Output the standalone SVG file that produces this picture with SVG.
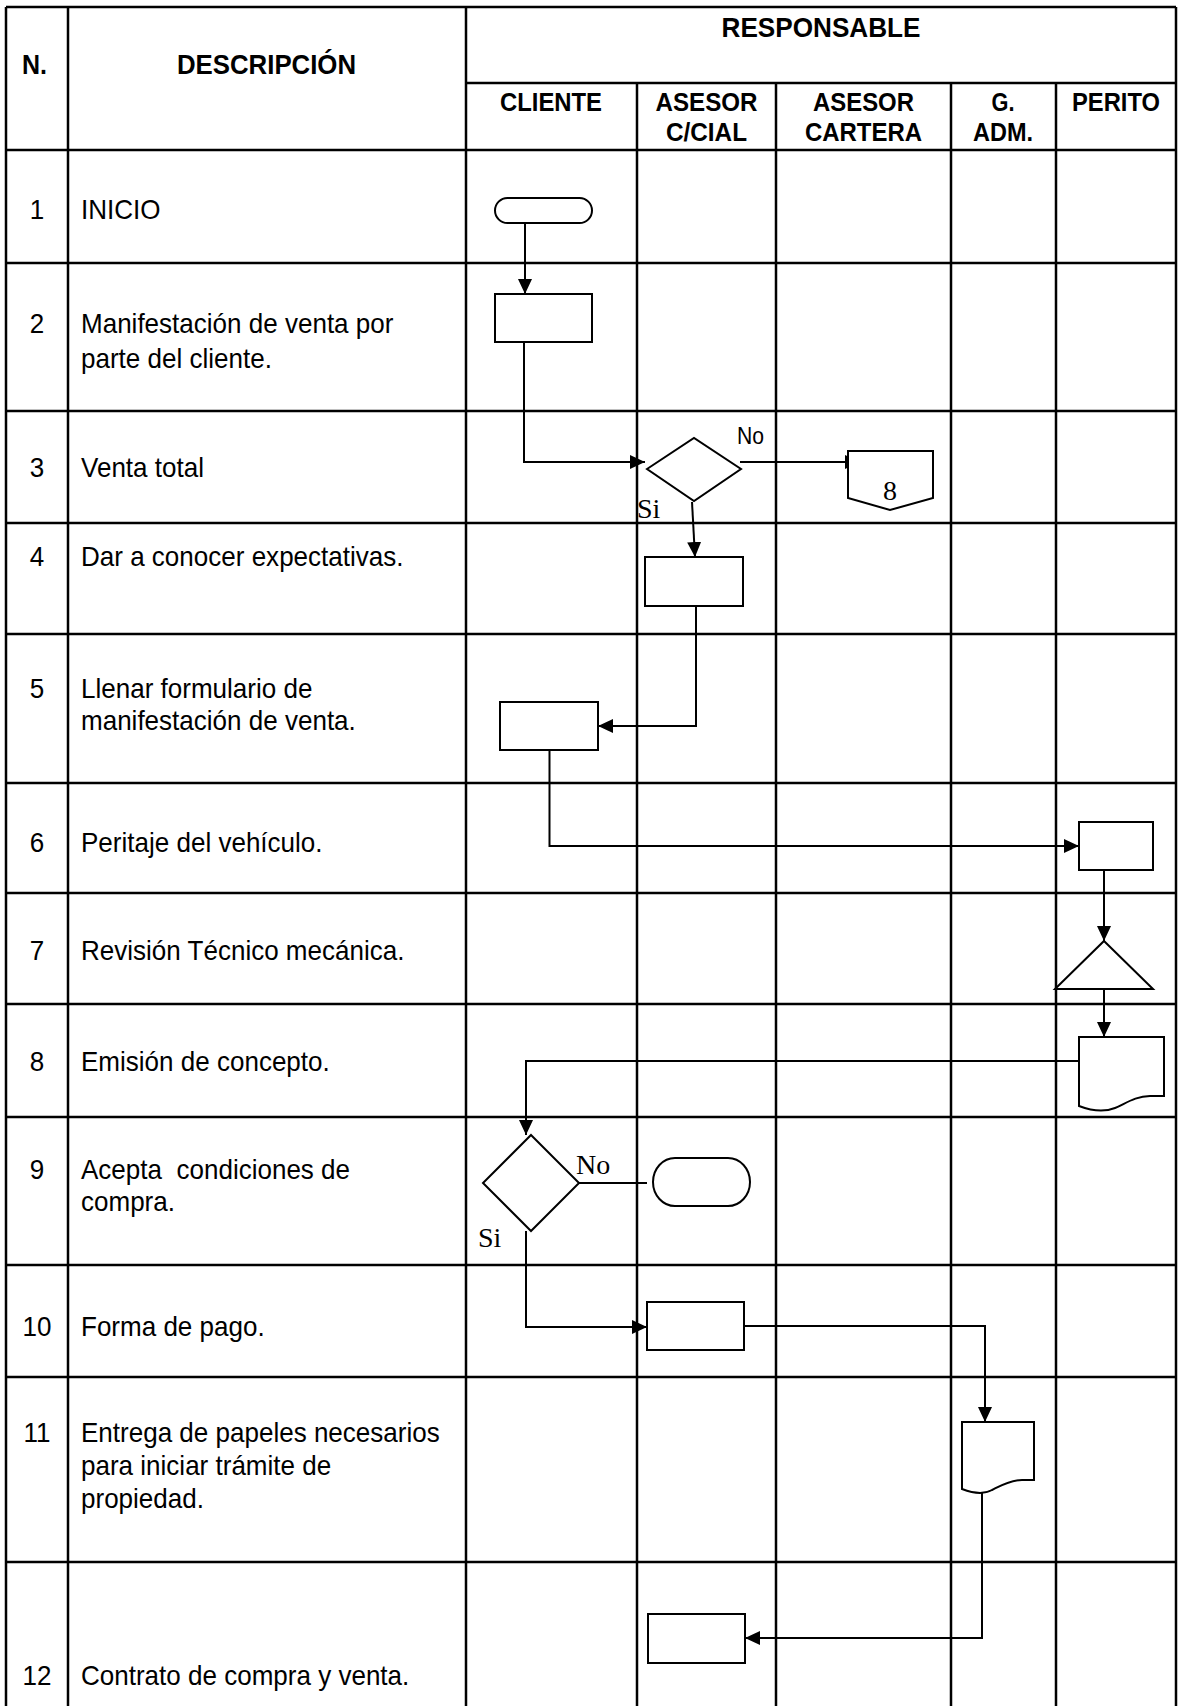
<svg xmlns="http://www.w3.org/2000/svg" width="1178" height="1706" viewBox="0 0 1178 1706">
  <style>
    .grid { stroke: #000; stroke-width: 2.5; fill: none; }
    .shape { fill: #fff; stroke: #000; stroke-width: 2; }
    .conn { fill: none; stroke: #000; stroke-width: 2; }
    .hdr { font-family: "Liberation Sans", Arial, sans-serif; font-weight: bold; font-size: 28px; fill: #000; }
    .sub { font-family: "Liberation Sans", Arial, sans-serif; font-weight: bold; font-size: 26px; fill: #000; text-anchor: middle; }
    .txt { font-family: "Liberation Sans", Arial, sans-serif; font-size: 28px; fill: #000; }
    .num { font-family: "Liberation Sans", Arial, sans-serif; font-size: 28px; fill: #000; text-anchor: middle; }
    .lbl { font-family: "Liberation Sans", Arial, sans-serif; font-size: 24px; fill: #000; }
    .lbl-serif { font-family: "Liberation Serif", "Times New Roman", serif; font-size: 28px; fill: #000; }
  </style>
  <defs>
    <marker id="arrow" viewBox="0 0 15 14" refX="15" refY="7" markerWidth="15" markerHeight="14" markerUnits="userSpaceOnUse" orient="auto">
      <path d="M0,0 L15,7 L0,14 Z" fill="#000"/>
    </marker>
  </defs>

  <rect width="1178" height="1706" fill="#fff"/>

  <!-- table grid -->
  <g id="table" class="grid">
    <line x1="6" y1="7" x2="1176" y2="7"/>
    <line x1="466" y1="83" x2="1176" y2="83"/>
    <line x1="6" y1="150" x2="1176" y2="150"/>
    <line x1="6" y1="263" x2="1176" y2="263"/>
    <line x1="6" y1="411" x2="1176" y2="411"/>
    <line x1="6" y1="523" x2="1176" y2="523"/>
    <line x1="6" y1="634" x2="1176" y2="634"/>
    <line x1="6" y1="783" x2="1176" y2="783"/>
    <line x1="6" y1="893" x2="1176" y2="893"/>
    <line x1="6" y1="1004" x2="1176" y2="1004"/>
    <line x1="6" y1="1117" x2="1176" y2="1117"/>
    <line x1="6" y1="1265" x2="1176" y2="1265"/>
    <line x1="6" y1="1377" x2="1176" y2="1377"/>
    <line x1="6" y1="1562" x2="1176" y2="1562"/>
    <line x1="6" y1="7" x2="6" y2="1706"/>
    <line x1="68" y1="7" x2="68" y2="1706"/>
    <line x1="466" y1="7" x2="466" y2="1706"/>
    <line x1="637" y1="83" x2="637" y2="1706"/>
    <line x1="776" y1="83" x2="776" y2="1706"/>
    <line x1="951" y1="83" x2="951" y2="1706"/>
    <line x1="1056" y1="83" x2="1056" y2="1706"/>
    <line x1="1176" y1="7" x2="1176" y2="1706"/>
  </g>

  <!-- column headers -->
  <g id="headers">
    <text class="hdr" x="22" y="74" textLength="25" lengthAdjust="spacingAndGlyphs">N.</text>
    <text class="hdr" x="177" y="74" textLength="179" lengthAdjust="spacingAndGlyphs">DESCRIPCIÓN</text>
    <text class="hdr" x="821" y="37" text-anchor="middle" textLength="199" lengthAdjust="spacingAndGlyphs">RESPONSABLE</text>
    <text class="sub" x="551" y="111" textLength="102" lengthAdjust="spacingAndGlyphs">CLIENTE</text>
    <text class="sub" x="706.5" y="111" textLength="102" lengthAdjust="spacingAndGlyphs">ASESOR</text>
    <text class="sub" x="706.5" y="141" textLength="81" lengthAdjust="spacingAndGlyphs">C/CIAL</text>
    <text class="sub" x="863.5" y="111" textLength="101" lengthAdjust="spacingAndGlyphs">ASESOR</text>
    <text class="sub" x="863.5" y="141" textLength="117" lengthAdjust="spacingAndGlyphs">CARTERA</text>
    <text class="sub" x="1003" y="111" textLength="23" lengthAdjust="spacingAndGlyphs">G.</text>
    <text class="sub" x="1003" y="141" textLength="60" lengthAdjust="spacingAndGlyphs">ADM.</text>
    <text class="sub" x="1116" y="111" textLength="88" lengthAdjust="spacingAndGlyphs">PERITO</text>
  </g>

  <!-- step numbers (column N.) -->
  <g id="step-numbers" transform="matrix(0.93 0 0 1 37 0)">
    <text class="num" x="0" y="219">1</text>
    <text class="num" x="0" y="333">2</text>
    <text class="num" x="0" y="477">3</text>
    <text class="num" x="0" y="566">4</text>
    <text class="num" x="0" y="698">5</text>
    <text class="num" x="0" y="852">6</text>
    <text class="num" x="0" y="960">7</text>
    <text class="num" x="0" y="1071">8</text>
    <text class="num" x="0" y="1179">9</text>
    <text class="num" x="0" y="1336">10</text>
    <text class="num" x="0" y="1442">11</text>
    <text class="num" x="0" y="1685">12</text>
  </g>

  <!-- step descriptions (column DESCRIPCIÓN) -->
  <g id="step-descriptions" transform="matrix(0.93 0 0 1 81 0)">
    <text class="txt" x="0" y="219">INICIO</text>
    <text class="txt" x="0" y="333">Manifestación de venta por</text>
    <text class="txt" x="0" y="368">parte del cliente.</text>
    <text class="txt" x="0" y="477">Venta total</text>
    <text class="txt" x="0" y="566">Dar a conocer expectativas.</text>
    <text class="txt" x="0" y="698">Llenar formulario de</text>
    <text class="txt" x="0" y="730">manifestación de venta.</text>
    <text class="txt" x="0" y="852">Peritaje del vehículo.</text>
    <text class="txt" x="0" y="960">Revisión Técnico mecánica.</text>
    <text class="txt" x="0" y="1071">Emisión de concepto.</text>
    <text class="txt" x="0" y="1179" xml:space="preserve">Acepta  condiciones de</text>
    <text class="txt" x="0" y="1211">compra.</text>
    <text class="txt" x="0" y="1336">Forma de pago.</text>
    <text class="txt" x="0" y="1442">Entrega de papeles necesarios</text>
    <text class="txt" x="0" y="1475">para iniciar trámite de</text>
    <text class="txt" x="0" y="1508">propiedad.</text>
    <text class="txt" x="0" y="1685">Contrato de compra y venta.</text>
  </g>

  <!-- connectors -->
  <g id="connectors" class="conn">
    <path d="M525,223 V294" marker-end="url(#arrow)"/>
    <path d="M524,342 V462 H645" marker-end="url(#arrow)"/>
    <path d="M740,462 H860" marker-end="url(#arrow)"/>
    <path d="M692,502 L695,557" marker-end="url(#arrow)"/>
    <path d="M696,606 V726 H598" marker-end="url(#arrow)"/>
    <path d="M549.5,750 V846 H1079" marker-end="url(#arrow)"/>
    <path d="M1104,870 V941" marker-end="url(#arrow)"/>
    <path d="M1104,989 V1037" marker-end="url(#arrow)"/>
    <path d="M1079,1061 H526 V1135" marker-end="url(#arrow)"/>
    <path d="M579,1183 H647"/>
    <path d="M526,1231 V1327 H647" marker-end="url(#arrow)"/>
    <path d="M744,1326 H985 V1422" marker-end="url(#arrow)"/>
    <path d="M982,1493 V1638 H745" marker-end="url(#arrow)"/>
  </g>

  <!-- flow nodes -->
  <g id="n1-inicio"><rect class="shape" x="495" y="198" width="97" height="25" rx="12.5"/></g>
  <g id="n2-manifestacion"><rect class="shape" x="495" y="294" width="97" height="48"/></g>
  <g id="n3-venta-total">
    <polygon class="shape" points="647,469 694,438 741,469 694,501"/>
    <text class="lbl" x="737" y="444" textLength="27" lengthAdjust="spacingAndGlyphs">No</text>
    <text class="lbl-serif" x="637" y="518">Si</text>
  </g>
  <g id="n3-conector-8">
    <polygon class="shape" points="848,451 933,451 933,498 890,510 848,498"/>
    <text class="lbl-serif" x="890" y="500" text-anchor="middle">8</text>
  </g>
  <g id="n4-expectativas"><rect class="shape" x="645" y="557" width="98" height="49"/></g>
  <g id="n5-formulario"><rect class="shape" x="500" y="702" width="98" height="48"/></g>
  <g id="n6-peritaje"><rect class="shape" x="1079" y="822" width="74" height="48"/></g>
  <g id="n7-revision"><polygon class="shape" points="1104,941 1153,989 1055,989"/></g>
  <g id="n8-concepto"><path class="shape" d="M1079,1037 H1164 V1096 H1150 C1135,1096 1125,1104 1115,1108 C1105,1112 1092,1111 1079,1106 Z"/></g>
  <g id="n9-acepta">
    <polygon class="shape" points="531,1135 579,1183 531,1231 483,1183"/>
    <text class="lbl-serif" x="576" y="1174">No</text>
    <text class="lbl-serif" x="478" y="1247">Si</text>
  </g>
  <g id="n9-fin"><rect class="shape" x="653" y="1158" width="97" height="48" rx="22" ry="24"/></g>
  <g id="n10-pago"><rect class="shape" x="647" y="1302" width="97" height="48"/></g>
  <g id="n11-papeles"><path class="shape" d="M962,1422 H1034 V1480 H1022 C1010,1480 1000,1486 992,1490 C985,1494 975,1494 962,1489 Z"/></g>
  <g id="n12-contrato"><rect class="shape" x="648" y="1614" width="97" height="49"/></g>
</svg>
